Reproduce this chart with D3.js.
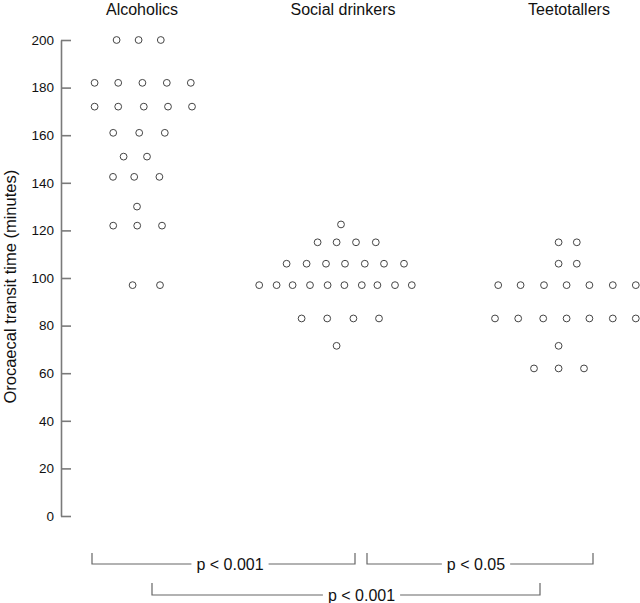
<!DOCTYPE html>
<html>
<head>
<meta charset="utf-8">
<script src="https://cdn.jsdelivr.net/npm/d3@7"></script>
<style>
  html, body { margin: 0; padding: 0; background: #fff; }
  svg { display: block; font-family: "Liberation Sans", Arial, Helvetica, sans-serif; }
</style>
</head>
<body>
<svg id="chart" width="640" height="603"></svg>
<script>
// ---------------- DATA ----------------
const groups = ["Alcoholics", "Social drinkers", "Teetotallers"];
const yTicks = [0, 20, 40, 60, 80, 100, 120, 140, 160, 180, 200];
const yLabel = "Orocaecal transit time (minutes)";

// orocaecal transit time (minutes), one entry per subject
const alcoholicsValues = [
  200, 200, 200,
  182, 182, 182, 182, 182,
  172, 172, 172, 172, 172,
  161, 161, 161,
  151, 151,
  142.5, 142.5, 142.5,
  130,
  122, 122, 122,
  97, 97
];
// horizontal slot (dot-plot column index, relative to the group centre)
const alcoholicsSlots = [
  -1.27, -0.17, 0.94,
  -2.37, -1.19, 0.02, 1.24, 2.44,
  -2.37, -1.19, 0.09, 1.3, 2.5,
  -1.44, -0.14, 1.14,
  -0.92, 0.25,
  -1.45, -0.39, 0.87,
  -0.25,
  -1.44, -0.24, 1.0,
  -0.47, 0.9
];

const socialValues = [
  122.5,
  115, 115, 115, 115,
  106, 106, 106, 106, 106, 106, 106,
  97, 97, 97, 97, 97, 97, 97, 97, 97, 97,
  83, 83, 83, 83,
  71.5
];
const socialSlots = [
  -0.1,
  -1.27, -0.32, 0.65, 1.64,
  -2.82, -1.82, -0.85, 0.1, 1.09, 2.05, 3.05,
  -4.19, -3.32, -2.52, -1.65, -0.77, 0.07, 0.94, 1.72, 2.6, 3.44,
  -2.07, -0.79, 0.52, 1.8,
  -0.32
];

const teetotalValues = [
  115, 115,
  106, 106,
  97, 97, 97, 97, 97, 97, 97,
  83, 83, 83, 83, 83, 83, 83,
  71.5,
  62, 62, 62
];
const teetotalSlots = [
  -0.52, 0.39,
  -0.52, 0.39,
  -3.54, -2.42, -1.25, -0.12, 1.02, 2.19, 3.34,
  -3.7, -2.54, -1.29, -0.12, 1.02, 2.19, 3.34,
  -0.52,
  -1.75, -0.52, 0.75
];

// significance comparisons
const compLabels = ["p < 0.001", "p < 0.05", "p < 0.001"];

// ---------------- LAYOUT ----------------
const svg = d3.select("#chart");
const axisX = 61;

const y = d3.scaleLinear().domain([0, 200]).range([516, 40]);
const gx = d3.scaleOrdinal().domain(groups).range([142, 343, 569]);
const slot = d3.scaleLinear().domain([0, 1]).range([0, 20]);

const points = [];
[[alcoholicsValues, alcoholicsSlots], [socialValues, socialSlots], [teetotalValues, teetotalSlots]]
  .forEach(([vals, slots], gi) => {
    vals.forEach((v, i) => points.push({ group: groups[gi], value: v, slot: slots[i] }));
  });

// group titles
svg.append("g").selectAll("text").data(groups).join("text")
  .attr("x", d => gx(d))
  .attr("y", 15)
  .attr("text-anchor", "middle")
  .attr("font-size", 16)
  .attr("fill", "#111")
  .text(d => d);

// y axis
const yAxis = d3.axisLeft(y).tickValues(yTicks).tickSize(-10).tickSizeOuter(0).tickPadding(7);
const ga = svg.append("g").attr("transform", `translate(${axisX},0)`).call(yAxis);
ga.select(".domain").attr("stroke", "#7a7a7a").attr("stroke-width", 1.6);
ga.selectAll(".tick line").attr("stroke", "#7a7a7a").attr("stroke-width", 1.6);
ga.selectAll(".tick text").attr("font-size", 13.5).attr("fill", "#111")
  .attr("font-family", "'Liberation Sans', Arial, sans-serif");

// y title
svg.append("text")
  .attr("transform", `translate(16,${(161.7 + 411.7) / 2}) rotate(-90)`)
  .attr("text-anchor", "middle")
  .attr("font-size", 16.5)
  .attr("fill", "#111")
  .text(yLabel);

// dots
svg.append("g").selectAll("circle").data(points).join("circle")
  .attr("cx", d => gx(d.group) + slot(d.slot))
  .attr("cy", d => y(d.value))
  .attr("r", 3.4)
  .attr("fill", "none")
  .attr("stroke", "#444")
  .attr("stroke-width", 1);

// significance brackets (annotation layout)
const brackets = [
  { x0: 92, x1: 355, top: 553, line: 564, tx: 230, label: compLabels[0] },
  { x0: 367, x1: 593, top: 553, line: 564, tx: 476, label: compLabels[1] },
  { x0: 152, x1: 540, top: 583, line: 595, tx: 361.5, label: compLabels[2] }
];
const bg = svg.append("g");
brackets.forEach(b => {
  const t = bg.append("text")
    .attr("x", b.tx)
    .attr("y", b.line + 5.5)
    .attr("text-anchor", "middle")
    .attr("font-size", 16)
    .attr("fill", "#111")
    .text(b.label);
  const w = t.node().getComputedTextLength();
  const gapL = b.tx - w / 2 - 5;
  const gapR = b.tx + w / 2 + 5;
  bg.append("path")
    .attr("d", `M${b.x0},${b.top}V${b.line}H${gapL}`)
    .attr("fill", "none").attr("stroke", "#666").attr("stroke-width", 1.2);
  bg.append("path")
    .attr("d", `M${gapR},${b.line}H${b.x1}V${b.top}`)
    .attr("fill", "none").attr("stroke", "#666").attr("stroke-width", 1.2);
});
</script>
</body>
</html>
